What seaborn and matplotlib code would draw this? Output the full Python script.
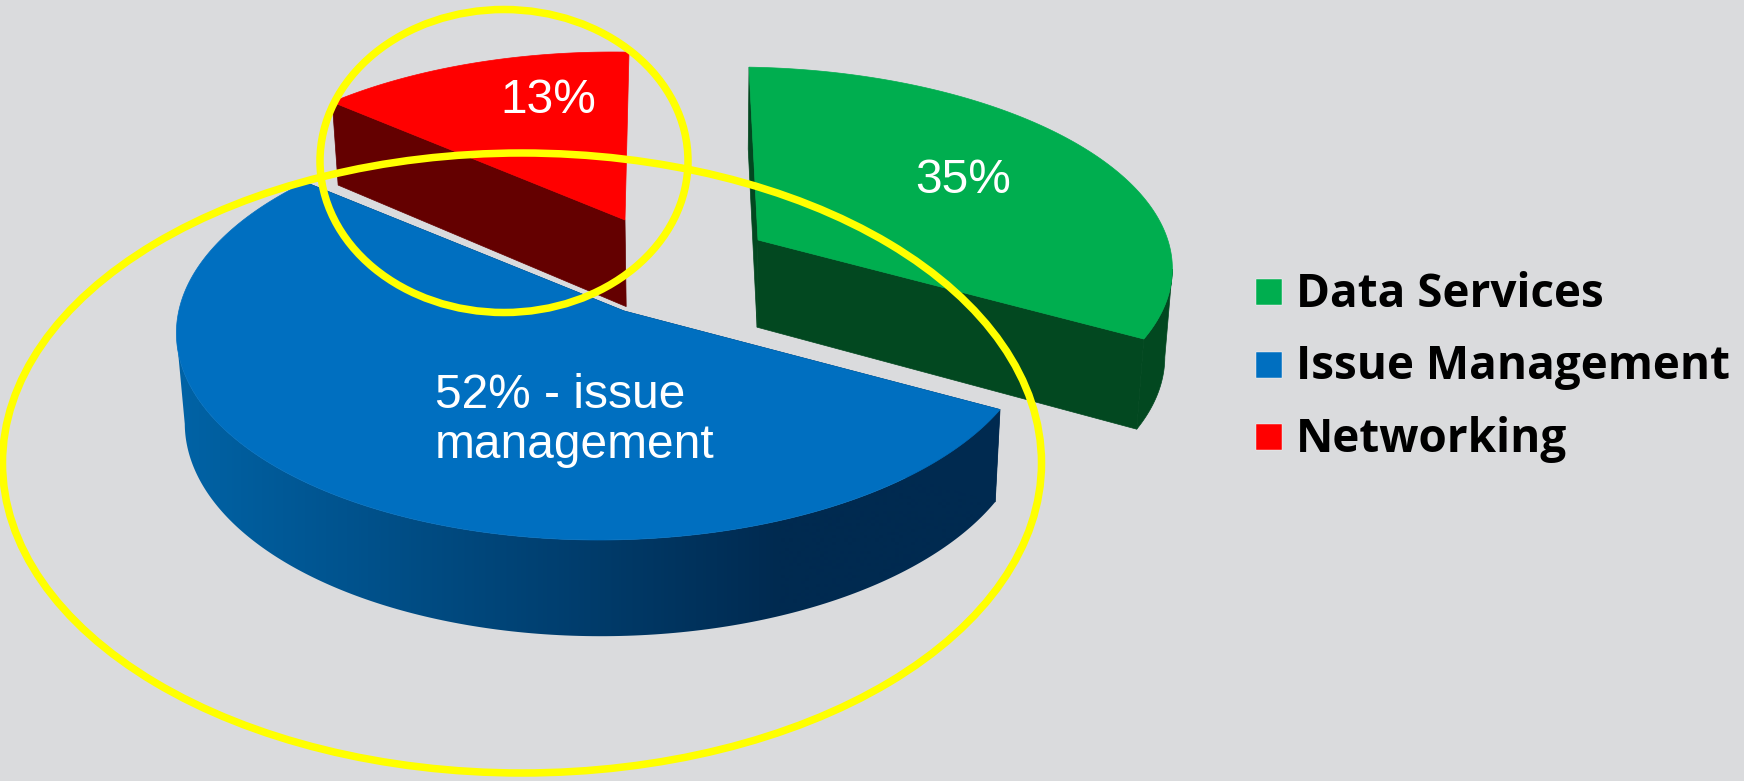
"""
3D exploded pie of the share of topics, with hand drawn yellow circles on top
"""

import numpy as np
import matplotlib.pyplot as plt
from matplotlib.patches import Ellipse, Polygon, Rectangle
import seaborn as sns

labels = ["Data Services", "Issue Management", "Networking"]
shares = [35, 52, 13]
slice_texts = ["35%", "52% - issue\nmanagement", "13%"]
top_colors = ["#00AE4F", "#006FC0", "#FF0000"]
side_colors = ["#024820", "#002A50", "#640000"]
background = "#DADBDD"

# pixel layout of the exploded slices: apex and the off-centre ellipse around it
apexes = [(758, 240), (624, 311), (625, 220)]
shears = [0.052, -0.03, -0.024]
ellipses = [
    (-16, 24, 429, 197),
    (-18, 19, 429, 210),
    (-16, 27, 418, 195),
]
text_pos = [(963, 193), (435, 458), (548, 113)]

sns.set_theme(style="white", rc={"figure.dpi": 100, "savefig.dpi": 100})
plt.rcParams["font.family"] = ["Liberation Sans", "DejaVu Sans"]


def rim_point(theta, apex, shear, ellipse):
    # ray from the slice apex out to the ellipse of the tilted pie
    x, y = np.sin(theta), -np.cos(theta)
    y = y * (0.358 if y > 0 else 0.425)
    ex, ey, rx, ry = ellipse
    a = (x / rx) ** 2 + (y / ry) ** 2
    b = -2 * (x * ex / rx**2 + y * ey / ry**2)
    c = (ex / rx) ** 2 + (ey / ry) ** 2 - 1
    t = (-b + np.sqrt(b**2 - 4 * a * c)) / (2 * a)
    return apex[0] + t * x + shear * t * y, apex[1] + t * y


def extrude(p):
    p = np.asarray(p, dtype=float)
    return np.c_[p[:, 0] * 0.984 + 11.2, p[:, 1] * 1.03 + 80]


fig, ax = plt.subplots(figsize=(17.44, 7.81))
fig.patch.set_facecolor(background)
ax.set_position([0, 0, 1, 1])

edges = np.r_[0, np.cumsum(shares)] / np.sum(shares) * 2 * np.pi

# gradient on the blue rim, flat once it reaches the darkest tone
blues = np.array(sns.blend_palette(["#0063A6", side_colors[1]], 604))
blues = np.r_[blues, np.tile(blues[-1], (400, 1))]

# back slices first, the big blue one overlaps the red
for i in [2, 0, 1]:
    thetas = np.linspace(edges[i], edges[i + 1], 300)
    rim = np.array([rim_point(t, apexes[i], shears[i], ellipses[i]) for t in thetas])
    bottom = extrude(rim)
    flat = np.array([apexes[i]], dtype=float)
    ends = [rim[:1]] if i == 2 else [rim[:1], rim[-1:]]
    for end in ends:
        quad = np.r_[flat, end, extrude(end), extrude(flat)]
        ax.add_patch(Polygon(quad, fc=side_colors[i], ec=side_colors[i], lw=0.5))
    # only the part of the rim that faces the viewer gets a side band
    if i == 0:
        j = rim[:, 0].argmax()
        band = np.r_[rim[j:], bottom[j:][::-1]]
        ax.add_patch(Polygon(band, fc=side_colors[i], ec=side_colors[i], lw=0.5))
    if i == 1:
        j = rim[:, 0].argmin() + 1
        band = np.r_[rim[:j], bottom[:j][::-1]]
        clip = Polygon(band, fc="none", ec="none")
        ax.add_patch(clip)
        im = ax.imshow(
            blues[None, :, :],
            extent=(177, 177 + len(blues), 781, 0),
            aspect="auto",
            interpolation="bilinear",
        )
        im.set_clip_path(clip)
    top = np.r_[flat, rim]
    ax.add_patch(Polygon(top, fc=top_colors[i], ec=top_colors[i], lw=0.5))

ax.set_xlim(0, 1744)
ax.set_ylim(781, 0)
ax.axis("off")

for (x, y), text in zip(text_pos, slice_texts):
    ax.text(
        x,
        y,
        text,
        color="white",
        fontsize=34.5,
        ha="left" if "\n" in text else "center",
        va="baseline",
        linespacing=1.13,
    )

# the yellow circles
for xy, w, h in [((504, 161), 368, 303), ((522, 463), 1039, 620)]:
    ax.add_patch(Ellipse(xy, w, h, fc="none", ec="#FFFF00", lw=5.4))

for k, label in enumerate(labels):
    y = 307 + k * 72.5
    ax.add_patch(
        Rectangle((1256, y - 28), 26, 26, fc=top_colors[k], ec="white", lw=0.3)
    )
    ax.text(
        1296,
        y,
        label,
        color="black",
        fontsize=33,
        fontweight="bold",
        family=["Open Sans", "DejaVu Sans"],
        va="baseline",
    )

fig.savefig("out.png", facecolor=background)
